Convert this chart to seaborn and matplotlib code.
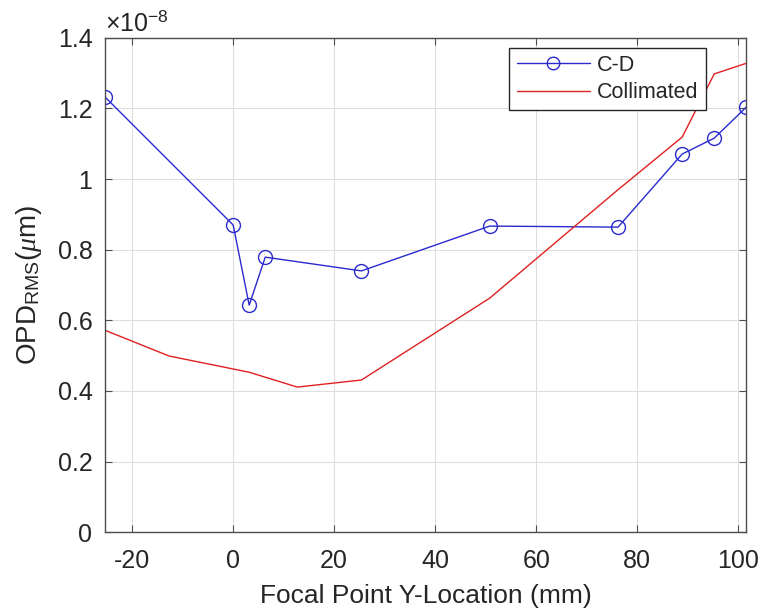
import matplotlib
matplotlib.use("Agg")
import matplotlib.pyplot as plt
import matplotlib.ticker as mticker
import seaborn as sns
import pandas as pd

# Data (OPD values in units of 1e-8)
cd_x = [-25.4, 0.0, 3.175, 6.35, 25.4, 50.8, 76.2, 88.9, 95.25, 101.6]
cd_y = [1.233, 0.870, 0.643, 0.779, 0.740, 0.867, 0.864, 1.071, 1.116, 1.204]
col_x = [-25.4, -12.7, 3.175, 12.7, 25.4, 50.8, 76.2, 88.9, 95.25, 101.6]
col_y = [0.572, 0.499, 0.453, 0.411, 0.431, 0.663, 0.970, 1.119, 1.298, 1.328]
y_ticks = [0, 0.2, 0.4, 0.6, 0.8, 1.0, 1.2, 1.4]
x_ticks = [-20, 0, 20, 40, 60, 80, 100]
SCALE = 1e-8

sns.set_theme(style="whitegrid")
plt.rcParams['font.family'] = ['Liberation Sans', 'DejaVu Sans']
plt.rcParams['axes.unicode_minus'] = False
plt.rcParams['mathtext.fontset'] = 'custom'
plt.rcParams['mathtext.rm'] = 'Liberation Sans'
plt.rcParams['mathtext.it'] = 'Liberation Serif:italic'

df_cd = pd.DataFrame({"x": cd_x, "y": [v * SCALE for v in cd_y]})
df_col = pd.DataFrame({"x": col_x, "y": [v * SCALE for v in col_y]})

fig = plt.figure(figsize=(7.6, 6.11), dpi=100)
ax = fig.add_axes([0.138, 0.129, 0.844, 0.809])

blue = "#2a2ad0"
sns.lineplot(data=df_cd, x="x", y="y", ax=ax, sort=False, color=blue,
             linewidth=1.0, marker="o", markersize=10, markerfacecolor="none",
             markeredgecolor=blue, markeredgewidth=1.0, label="C-D")
sns.lineplot(data=df_col, x="x", y="y", ax=ax, sort=False, color="#e02020",
             linewidth=1.0, label="Collimated")

ax.set_xlim(-25.4, 101.6)
ax.set_ylim(0, 1.4 * SCALE)
ax.set_xticks(x_ticks)
ax.set_yticks([v * SCALE for v in y_ticks])
ax.yaxis.set_major_formatter(mticker.FuncFormatter(lambda v, p: f"{v / SCALE:g}"))

ax.set_facecolor("white")
ax.grid(True, color="#dedede", linewidth=0.8)
for s in ax.spines.values():
    s.set_color("#4d4d4d")
    s.set_linewidth(1.0)
ax.tick_params(axis="both", which="both", direction="in", length=5, width=0.8,
               color="#4d4d4d", labelcolor="#262626", labelsize=18,
               top=True, right=True, bottom=True, left=True)
ax.tick_params(axis="x", pad=12)
ax.tick_params(axis="y", pad=9)

ax.set_xlabel("Focal Point Y-Location (mm)", fontsize=19, color="#262626", labelpad=8)
ax.set_ylabel(r"OPD$_{\mathrm{RMS}}$($\mu$m)", fontsize=20, color="#262626", labelpad=10)

ax.text(0.0, 1.004, r"$\times$10$^{\mathrm{-8}}$", transform=ax.transAxes,
        fontsize=18, color="#262626", ha="left", va="bottom")

leg = ax.legend(loc="upper right", fontsize=15.5, frameon=True, fancybox=False,
                framealpha=1, edgecolor="#262626", borderpad=0.33,
                handlelength=3.4, handletextpad=0.35, labelspacing=0.3,
                borderaxespad=0, bbox_to_anchor=(0.937, 0.98))
leg.get_frame().set_linewidth(1.0)
for h in leg.legend_handles:
    if hasattr(h, "set_markersize"):
        h.set_markersize(9)

fig.savefig("out.png", dpi=100, facecolor="white")
